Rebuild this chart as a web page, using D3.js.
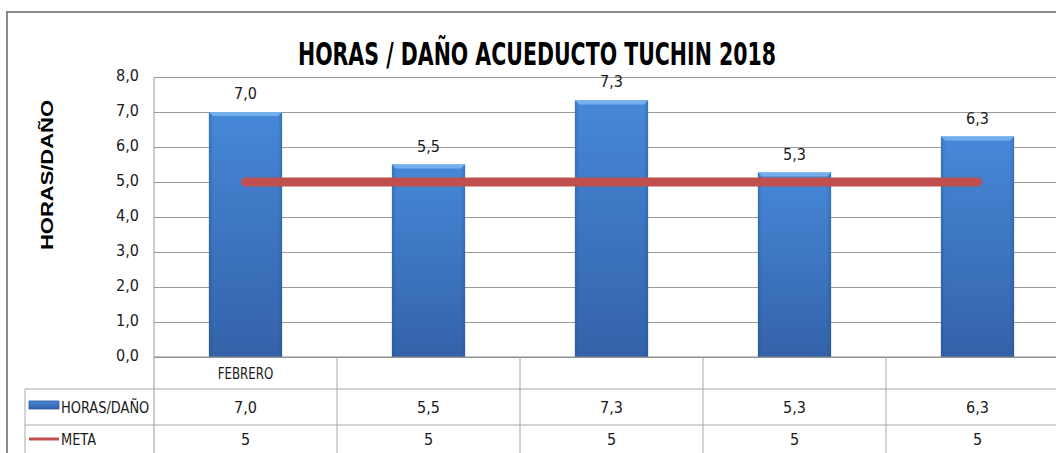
<!DOCTYPE html>
<html lang="es">
<head>
    <meta charset="UTF-8">
    <title>HORAS / DAÑO ACUEDUCTO TUCHIN 2018</title>
    <script src="https://d3js.org/d3.v7.min.js"></script>
    <style>
        body { margin: 0; background: #fff; }
        text { font-family: "Liberation Sans Narrow", "DejaVu Sans Condensed", "Liberation Sans", sans-serif; fill: #1a1a1a; }
    </style>
</head>
<body>
<div id="chart"></div>

<script>
    // Datos
    const categories = ["FEBRERO", "", "", "", ""];
    const horasDano = [7.0, 5.5, 7.33, 5.27, 6.3];
    const meta = [5, 5, 5, 5, 5];
    const yTicks = [0, 1, 2, 3, 4, 5, 6, 7, 8];
    const seriesNames = ["HORAS/DAÑO", "META"];

    const W = 1056, H = 453;
    const plot = {left: 154, right: 1069, top: 77, bottom: 357};
    const rows = [357, 389, 425, 453];
    const legendLeft = 25;

    const svg = d3.select('#chart')
        .append('svg')
        .attr('width', W)
        .attr('height', H);

    const defs = svg.append('defs');
    const grad = defs.append('linearGradient')
        .attr('id', 'barGrad')
        .attr('x1', 0).attr('y1', 0).attr('x2', 0).attr('y2', 1);
    grad.append('stop').attr('offset', '0%').attr('stop-color', '#4688d8');
    grad.append('stop').attr('offset', '100%').attr('stop-color', '#3462a9');
    const side = defs.append('linearGradient')
        .attr('id', 'barSide')
        .attr('x1', 0).attr('y1', 0).attr('x2', 1).attr('y2', 0);
    side.append('stop').attr('offset', '0%').attr('stop-color', '#1f4a85').attr('stop-opacity', 0.35);
    side.append('stop').attr('offset', '6%').attr('stop-color', '#1f4a85').attr('stop-opacity', 0);
    side.append('stop').attr('offset', '94%').attr('stop-color', '#1f4a85').attr('stop-opacity', 0);
    side.append('stop').attr('offset', '100%').attr('stop-color', '#1f4a85').attr('stop-opacity', 0.35);

    // Escalas
    const idx = d3.range(categories.length);
    const x = d3.scaleBand().domain(idx).range([plot.left, plot.right])
        .paddingInner(0.6).paddingOuter(0.3);
    const step = x.step();
    const y = d3.scaleLinear().domain([0, 8]).range([plot.bottom, plot.top]);
    const fmt = v => d3.format('.1f')(v).replace('.', ',');

    // estrecha el texto (la fuente original es mas angosta)
    function condense(sel, k) {
        sel.each(function () {
            const w = this.getComputedTextLength();
            if (w > 0) {
                d3.select(this)
                    .attr('textLength', w * k)
                    .attr('lengthAdjust', 'spacingAndGlyphs');
            }
        });
    }

    // Marco exterior
    svg.append('path')
        .attr('d', `M7,${H} L7,12 L${W},12`)
        .attr('fill', 'none')
        .attr('stroke', '#8a8a8a')
        .attr('stroke-width', 2);

    // Titulo
    svg.append('text')
        .attr('x', 537).attr('y', 65)
        .attr('text-anchor', 'middle')
        .attr('font-size', 32)
        .attr('font-weight', 'bold')
        .attr('textLength', 478)
        .attr('lengthAdjust', 'spacingAndGlyphs')
        .style('fill', '#000')
        .text('HORAS / DAÑO ACUEDUCTO TUCHIN 2018');

    // Eje Y + grilla
    const yAxis = svg.append('g')
        .attr('transform', `translate(${plot.left},0)`)
        .call(d3.axisLeft(y).tickValues(yTicks).tickFormat(fmt)
            .tickSize(-(plot.right - plot.left)).tickPadding(15));
    yAxis.select('.domain').remove();
    yAxis.selectAll('.tick line').attr('stroke', '#9a9a9a');
    yAxis.selectAll('.tick text').attr('font-size', 16).style('fill', '#1a1a1a').attr('dy', '0.2em');

    svg.append('line')
        .attr('x1', plot.left).attr('x2', plot.left)
        .attr('y1', plot.top).attr('y2', H)
        .attr('stroke', '#9a9a9a');

    // Titulo eje Y
    svg.append('text')
        .attr('transform', 'translate(53,175) rotate(-90)')
        .attr('text-anchor', 'middle')
        .attr('font-size', 16)
        .attr('font-weight', 'bold')
        .attr('textLength', 150)
        .attr('lengthAdjust', 'spacingAndGlyphs')
        .style('font-family', '"Liberation Sans", Arial, sans-serif')
        .style('fill', '#000')
        .text('HORAS/DAÑO');

    // Barras
    const bars = svg.append('g').selectAll('g')
        .data(horasDano)
        .join('g');
    bars.append('rect')
        .attr('x', (d, i) => x(i))
        .attr('y', d => y(d))
        .attr('width', x.bandwidth())
        .attr('height', d => y(0) - y(d))
        .attr('fill', 'url(#barGrad)');
    bars.append('rect')
        .attr('x', (d, i) => x(i))
        .attr('y', d => y(d))
        .attr('width', x.bandwidth())
        .attr('height', d => y(0) - y(d))
        .attr('fill', 'url(#barSide)');
    // bisel superior
    bars.append('path')
        .attr('d', (d, i) => {
            const x0 = x(i), x1 = x(i) + x.bandwidth(), t = y(d);
            return `M${x0},${t} L${x1},${t} L${x1 - 4},${t + 4} L${x0 + 4},${t + 4} Z`;
        })
        .attr('fill', '#72afec');

    // Etiquetas de datos
    svg.append('g').selectAll('text')
        .data(horasDano)
        .join('text')
        .attr('x', (d, i) => x(i) + x.bandwidth() / 2)
        .attr('y', d => y(d) - 13)
        .attr('text-anchor', 'middle')
        .attr('font-size', 16)
        .text(d => fmt(d));

    // Linea META
    const line = d3.line()
        .x((d, i) => x(i) + x.bandwidth() / 2)
        .y(d => y(d));
    svg.append('path')
        .datum(meta)
        .attr('d', line)
        .attr('fill', 'none')
        .attr('stroke', '#c0504d')
        .attr('stroke-width', 9)
        .attr('stroke-linecap', 'round');

    // Eje X
    svg.append('line')
        .attr('x1', plot.left).attr('x2', W)
        .attr('y1', plot.bottom).attr('y2', plot.bottom)
        .attr('stroke', '#8a8a8a');

    // Tabla de datos
    const grid = svg.append('g').attr('stroke', '#a8a8a8').attr('fill', 'none');
    grid.selectAll('line.v')
        .data(d3.range(1, categories.length + 1))
        .join('line')
        .attr('x1', i => plot.left + i * step)
        .attr('x2', i => plot.left + i * step)
        .attr('y1', rows[0]).attr('y2', H);
    grid.selectAll('line.h')
        .data([rows[1], rows[2]])
        .join('line')
        .attr('x1', legendLeft).attr('x2', W)
        .attr('y1', d => d).attr('y2', d => d);
    grid.append('line')
        .attr('x1', legendLeft).attr('x2', legendLeft)
        .attr('y1', rows[1]).attr('y2', H);

    const cellY = (r) => (rows[r] + rows[r + 1]) / 2 + 6;
    const tableRows = [categories, horasDano.map(fmt), meta.map(String)];
    tableRows.forEach((vals, r) => {
        const t = svg.append('g').selectAll('text')
            .data(vals)
            .join('text')
            .attr('x', (d, i) => x(i) + x.bandwidth() / 2)
            .attr('y', cellY(r))
            .attr('text-anchor', 'middle')
            .attr('font-size', 16)
            .text(d => d);
        if (r === 0) condense(t, 0.82);
    });

    // Leyenda en la tabla
    svg.append('rect')
        .attr('x', 29).attr('y', cellY(1) - 12)
        .attr('width', 30).attr('height', 8)
        .attr('fill', 'url(#barGrad)')
        .attr('stroke', '#2d5b9c').attr('stroke-width', 0.8);
    svg.append('line')
        .attr('x1', 29).attr('x2', 59)
        .attr('y1', cellY(2) - 6).attr('y2', cellY(2) - 6)
        .attr('stroke', '#c0504d').attr('stroke-width', 3);
    svg.append('g').selectAll('text')
        .data(seriesNames)
        .join('text')
        .attr('x', 61)
        .attr('y', (d, i) => cellY(i + 1))
        .attr('font-size', 16)
        .text(d => d)
        .call(condense, 0.9);
</script>

</body>
</html>
